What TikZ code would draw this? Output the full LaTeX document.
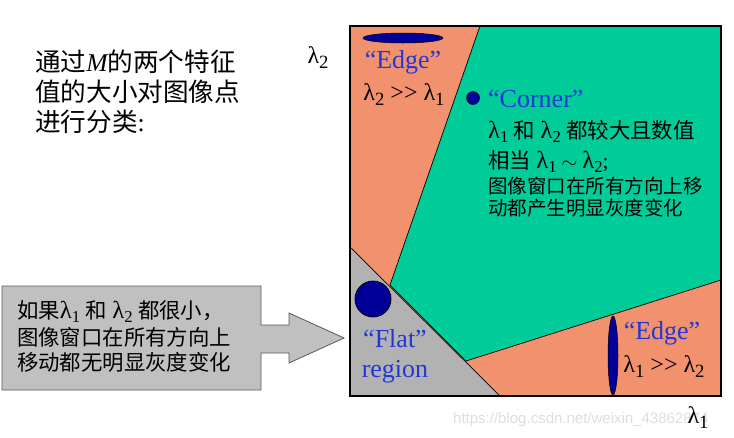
\documentclass[tikz,border=0pt]{standalone}
\usepackage{fontspec}
\setmainfont{Liberation Serif}
\newfontfamily\cjk{Noto Sans CJK SC}
\newfontfamily\wmfont{Liberation Sans}
\usepackage{tikz}
\usetikzlibrary{positioning, shapes.geometric}
\definecolor{edgeorange}{RGB}{241,145,109}
\definecolor{cornergreen}{RGB}{0,204,153}
\definecolor{flatgray}{RGB}{178,178,178}
\definecolor{boxgray}{RGB}{192,192,192}
\definecolor{labelblue}{RGB}{35,55,215}
\definecolor{blobblue}{RGB}{0,0,153}
\newcommand{\lsub}[1]{\raisebox{-0.22em}{\scalebox{0.78}{#1}}}
\newcommand{\lam}[1]{{\rmfamily\scalebox{1.15}{λ}\lsub{#1}}}

\begin{document}
\begin{tikzpicture}[x=1pt, y=-1pt,
    txt/.style={inner sep=0pt, anchor=base west},
    cnbig/.style={txt, font=\cjk\fontsize{25.6}{30}\selectfont},
    cnmid/.style={txt, font=\cjk\fontsize{21.4}{25}\selectfont},
    cnsmall/.style={txt, font=\cjk\fontsize{19.5}{22}\selectfont},
    bluetxt/.style={inner sep=0pt, anchor=base, text=labelblue, font=\fontsize{26}{30}\selectfont},
    lamtxt/.style={inner sep=0pt, anchor=base, font=\fontsize{24}{30}\selectfont},
    blob/.style={draw=black, line width=0.5pt, fill=blobblue, inner sep=0pt},
    region/.style={draw=black, line width=0.7pt}]

        \fill[white] (0,0) rectangle (734,437);
        \useasboundingbox (0,0) rectangle (734,437);

        % intro text
        \foreach \i/\t in {0/通过{\rmfamily\itshape M}的两个特征, 1/值的大小对图像点, 2/进行分类{\rmfamily :}}
            \node[cnbig] (intro\i) at (35,71+30*\i) {\t};

        % the lambda plane
        \coordinate (sqnw) at (350,26);
        \coordinate (sqse) at (721,396);
        \fill[edgeorange] (sqnw) rectangle (sqse);
        \draw[region, fill=cornergreen] (480,26) -- (721,26) -- (721,280) -- (466,361) -- (390,285) -- cycle;
        \draw[region, fill=flatgray] (350,247) -- (500,396) -- (350,396) -- cycle;
        \draw[line width=1.1pt] (sqnw) rectangle (sqse);

        \node[lamtxt] (axistwo) at (318,63) {λ\lsub{2}};

        % edge (top)
        \node[blob, ellipse, minimum width=80, minimum height=10] (edgetopblob) at (403,38) {};
        \node[bluetxt] (edgetop) at (403,68) {“Edge”};
        \node[lamtxt] (edgetoprel) at (404,100) {λ\lsub{2} >{}> λ\lsub{1}};

        % corner
        \node[blob, circle, minimum size=13] (cornerblob) at (473,98) {};
        \node[bluetxt, anchor=base west] (corner) at (488,107) {“Corner”};
        \node[cnmid] (cornerone) at (488,138) {\lam{1}{\rmfamily\ }和{\rmfamily\ }\lam{2}{\rmfamily\ }都较大且数值};
        \node[cnmid] (cornertwo) at (488,168) {相当{\rmfamily\ }\lam{1} $\sim$ \lam{2}{\rmfamily ;}};
        \node[cnsmall] (cornerthree) at (488,193) {图像窗口在所有方向上移};
        \node[cnsmall] (cornerfour) at (488,215) {动都产生明显灰度变化};

        % flat
        \node[blob, circle, minimum size=36, line width=0.8pt] (flatblob) at (373,299) {};
        \node[bluetxt] (flat) at (395,347) {“Flat”};
        \node[bluetxt] (flatregion) at (395,377) {region};

        % edge (bottom right)
        \node[blob, ellipse, minimum width=10, minimum height=79] (edgerightblob) at (613,355.5) {};
        \node[bluetxt] (edgeright) at (662,339) {“Edge”};
        \node[lamtxt] (edgerightrel) at (664,372) {λ\lsub{1} >{}> λ\lsub{2}};

        % pointer box
        \draw[fill=boxgray, draw=black!65, line width=0.8pt] (2,286) -- (261,286) -- (261,325) -- (289,325) -- (289,313)
            -- (344,338) -- (289,363) -- (289,353) -- (261,353) -- (261,390) -- (2,390) -- cycle;
        \node[cnmid] (flatone) at (17,318) {如果\lam{1}{\rmfamily\ }和{\rmfamily\ }\lam{2}{\rmfamily\ }都很小，};
        \node[cnmid] (flattwo) at (17,345) {图像窗口在所有方向上};
        \node[cnmid] (flatthree) at (17,370) {移动都无明显灰度变化};

        \node[txt, text=black!13, font=\wmfont\fontsize{15}{18}\selectfont] (watermark) at (453,423) {https://blog.csdn.net/weixin\_43862874};
        \node[lamtxt] (axisone) at (698,423) {λ\lsub{1}};
        \end{tikzpicture}
\end{document}
